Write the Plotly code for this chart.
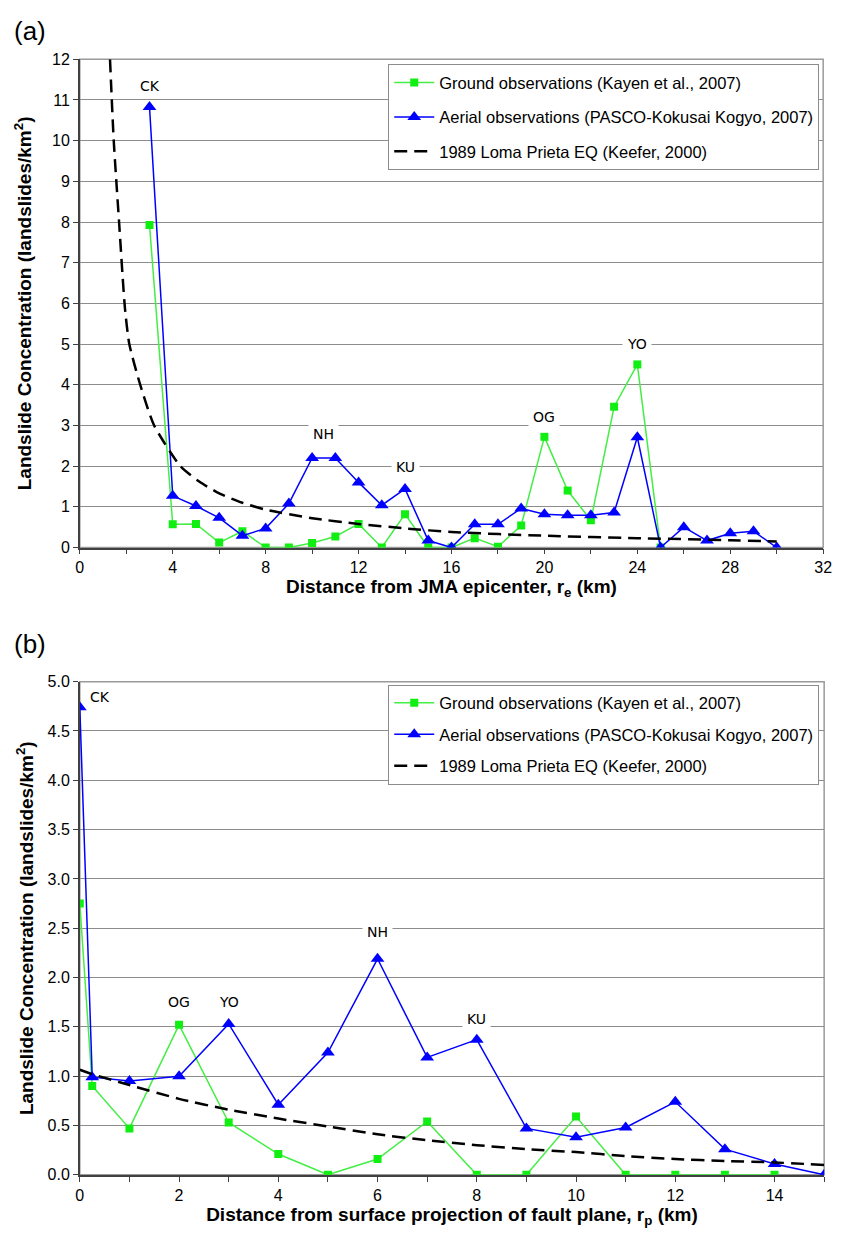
import plotly.graph_objects as go

# ---------------- Panel (a): distance from JMA epicenter ----------------
a_ground_x = [3, 4, 5, 6, 7, 8, 9, 10, 11, 12, 13, 14, 15, 16, 17, 18, 19, 20, 21, 22, 23, 24, 25]
a_ground_y = [7.93, 0.57, 0.58, 0.12, 0.40, 0.0, 0.0, 0.11, 0.27, 0.58, 0.0, 0.82, 0.0, 0.0,
              0.23, 0.02, 0.54, 2.72, 1.40, 0.67, 3.46, 4.50, 0.0]
a_aerial_x = [3, 4, 5, 6, 7, 8, 9, 10, 11, 12, 13, 14, 15, 16, 17, 18, 19, 20, 21, 22, 23, 24,
              25, 26, 27, 28, 29, 30]
a_aerial_y = [10.83, 1.27, 1.02, 0.73, 0.29, 0.47, 1.08, 2.20, 2.20, 1.60, 1.04, 1.44, 0.17, 0.0,
              0.57, 0.57, 0.96, 0.82, 0.79, 0.79, 0.86, 2.71, 0.0, 0.50, 0.17, 0.35, 0.40, 0.0]
a_keefer_x = [1.3, 1.46, 1.69, 1.94, 2.13, 2.6, 3.2, 4.33, 5.14, 6, 7, 8, 10, 12, 14, 16, 20,
              24, 28, 30]
a_keefer_y = [12, 10, 8, 5.9, 5.0, 4.0, 3.0, 2.0, 1.62, 1.33, 1.1, 0.93, 0.72, 0.58, 0.47, 0.38,
              0.29, 0.23, 0.18, 0.15]
a_label_text = ["CK", "NH", "KU", "OG", "YO"]
a_label_x = [3, 10.5, 14, 20, 24]
a_label_y = [11.35, 2.8, 1.98, 3.2, 5.0]

# ---------------- Panel (b): distance from fault plane projection ----------------
b_ground_x = [0, 0.25, 1, 2, 3, 4, 5, 6, 7, 8, 9, 10, 11, 12, 13, 14]
b_ground_y = [2.75, 0.90, 0.47, 1.52, 0.53, 0.21, 0.0, 0.16, 0.54, 0.0, 0.0, 0.59, 0.0, 0.0, 0.0, 0.0]
b_aerial_x = [0, 0.25, 1, 2, 3, 4, 5, 6, 7, 8, 9, 10, 11, 12, 13, 14, 15]
b_aerial_y = [4.74, 0.99, 0.95, 1.0, 1.53, 0.71, 1.24, 2.19, 1.19, 1.37, 0.47, 0.38, 0.48, 0.74,
              0.26, 0.11, 0.0]
b_keefer_x = [0, 0.25, 1, 2, 3, 4, 5, 6, 7, 8, 9, 10, 11, 12, 13, 14, 15]
b_keefer_y = [1.065, 1.02, 0.91, 0.77, 0.66, 0.57, 0.49, 0.41, 0.35, 0.30, 0.26, 0.23, 0.19,
              0.16, 0.14, 0.125, 0.10]
b_label_text = ["CK", "OG", "YO", "NH", "KU"]
b_label_x = [0.4, 2, 3, 6, 8]
b_label_y = [4.84, 1.75, 1.75, 2.46, 1.58]

legend_names = ["Ground observations (Kayen et al., 2007)",
                "Aerial observations (PASCO-Kokusai Kogyo, 2007)",
                "1989 Loma Prieta EQ (Keefer, 2000)"]

GREEN_LINE = "#44ee44"
GREEN_MK = "#11ee11"
BLUE = "#0000ff"
GRID = "#8c8c8c"
AXIS = "#404040"
FONT = "Liberation Sans, Arial, sans-serif"
TFONT = "Liberation Sans, Arial, sans-serif"

fig = go.Figure()


def add_panel(xa, ya, leg, gx, gy, ax, ay, kx, ky):
    fig.add_trace(go.Scatter(x=gx, y=gy, mode="lines+markers", name=legend_names[0],
                             line=dict(color=GREEN_LINE, width=1.5),
                             marker=dict(symbol="square", size=8, color=GREEN_MK),
                             xaxis=xa, yaxis=ya, legend=leg, legendgroup=leg + "g"))
    fig.add_trace(go.Scatter(x=ax, y=ay, mode="lines+markers", name=legend_names[1],
                             line=dict(color=BLUE, width=1.5),
                             marker=dict(symbol="triangle-up", size=12, color=BLUE),
                             xaxis=xa, yaxis=ya, legend=leg, legendgroup=leg + "a"))
    fig.add_trace(go.Scatter(x=kx, y=ky, mode="lines", name=legend_names[2],
                             line=dict(color="black", width=2.5, dash="13px,7px",
                                       shape="spline", smoothing=0.6),
                             xaxis=xa, yaxis=ya, legend=leg, legendgroup=leg + "k"))


add_panel("x", "y", "legend", a_ground_x, a_ground_y, a_aerial_x, a_aerial_y, a_keefer_x, a_keefer_y)
add_panel("x2", "y2", "legend2", b_ground_x, b_ground_y, b_aerial_x, b_aerial_y, b_keefer_x, b_keefer_y)

tickfont = dict(family=FONT, size=16, color="black")
xtitlefont = dict(family=TFONT, size=19, color="black", weight="bold")
ytitlefont = dict(family=TFONT, size=19, color="black", weight="bold")

xa_dom = [77 / 843, 832 / 843]
ya_dom = [1 - 547 / 1240, 1 - 52 / 1240]
xb_dom = [77 / 843, 833 / 843]
yb_dom = [1 - 1183 / 1240, 1 - 683 / 1240]

common_x = dict(showgrid=False, zeroline=False, showline=True, linecolor=AXIS, linewidth=1.5,
                ticks="outside", ticklen=5, tickcolor=AXIS, tickfont=tickfont)
common_y = dict(showgrid=True, gridcolor=GRID, gridwidth=1, zeroline=False, showline=True,
                linecolor=AXIS, linewidth=1.5, ticks="outside", ticklen=5, tickcolor=AXIS,
                tickfont=tickfont)

fig.update_layout(
    width=843, height=1240,
    margin=dict(l=0, r=0, t=0, b=0),
    paper_bgcolor="white", plot_bgcolor="white",
    font=dict(family=FONT, color="black"),
    xaxis=dict(domain=xa_dom, anchor="y", range=[0, 32], dtick=4, tick0=0,
               minor=dict(dtick=2, ticks="outside", ticklen=5, tickcolor=AXIS),
               title=dict(text="Distance from JMA epicenter, r<sub>e</sub> (km)", font=xtitlefont,
                          standoff=2),
               **common_x),
    yaxis=dict(domain=ya_dom, anchor="x", range=[0, 12], dtick=1,
               title=dict(text="Landslide Concentration (landslides/km<sup>2</sup>)", font=ytitlefont,
                          standoff=15),
               **common_y),
    xaxis3=dict(overlaying="x", anchor="y", range=[0, 32], dtick=2, tick0=0, ticks="inside",
                ticklen=5, tickcolor=AXIS, showticklabels=False, showgrid=False, zeroline=False,
                showline=False),
    xaxis2=dict(domain=xb_dom, anchor="y2", range=[0, 15], dtick=2, tick0=0,
                minor=dict(dtick=1, ticks="outside", ticklen=5, tickcolor=AXIS),
                title=dict(text="Distance from surface projection of fault plane, r<sub>p</sub> (km)",
                           font=xtitlefont, standoff=4),
                **common_x),
    yaxis2=dict(domain=yb_dom, anchor="x2", range=[0, 5], dtick=0.5, tickformat=".1f",
                title=dict(text="Landslide Concentration (landslides/km<sup>2</sup>)", font=ytitlefont,
                           standoff=9),
                **common_y),
    xaxis4=dict(overlaying="x2", anchor="y2", range=[0, 15], dtick=1, tick0=0, ticks="inside",
                ticklen=5, tickcolor=AXIS, showticklabels=False, showgrid=False, zeroline=False,
                showline=False),
    legend=dict(x=828 / 843, xanchor="right", y=1 - 57 / 1240, yanchor="top",
                bgcolor="white", bordercolor="#8c8c8c", borderwidth=1,
                font=dict(family=FONT, size=16.5, color="black"),
                tracegroupgap=10, traceorder="grouped", itemwidth=40),
    legend2=dict(x=828 / 843, xanchor="right", y=1 - 686 / 1240, yanchor="top",
                 bgcolor="white", bordercolor="#8c8c8c", borderwidth=1,
                 font=dict(family=FONT, size=16.5, color="black"),
                 tracegroupgap=7, traceorder="grouped", itemwidth=40),
    showlegend=True,
)

# plot-area frame (grey)
for xd, yd in [("x domain", "y domain"), ("x2 domain", "y2 domain")]:
    fig.add_shape(type="rect", xref=xd, yref=yd, x0=0, x1=1, y0=0, y1=1,
                  line=dict(color="#9a9a9a", width=1.5), layer="below")

# site labels
LBLFONT = dict(family="DejaVu Sans, Verdana, sans-serif", size=14, color="black")
for t, x, y in zip(a_label_text, a_label_x, a_label_y):
    fig.add_annotation(x=x, y=y, xref="x", yref="y", text=t, showarrow=False,
                       font=LBLFONT, bgcolor="white", borderpad=4)
for t, x, y in zip(b_label_text, b_label_x, b_label_y):
    fig.add_annotation(x=x, y=y, xref="x2", yref="y2", text=t, showarrow=False,
                       font=LBLFONT, bgcolor="white" if t != "CK" else "rgba(0,0,0,0)",
                       borderpad=4)

# panel letters
fig.add_annotation(x=8 / 843, y=1 - 6 / 1240, xref="paper", yref="paper", text="(a)",
                   showarrow=False, xanchor="left", yanchor="top",
                   font=dict(family=FONT, size=26, color="black"))
fig.add_annotation(x=8 / 843, y=1 - 628 / 1240, xref="paper", yref="paper", text="(b)",
                   showarrow=False, xanchor="left", yanchor="top",
                   font=dict(family=FONT, size=26, color="black"))

fig.write_html("out.html", config={"displayModeBar": False},
               post_script="document.body.style.margin='0';document.body.style.overflow='hidden';")
